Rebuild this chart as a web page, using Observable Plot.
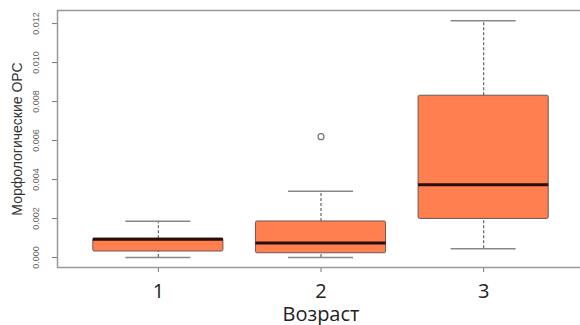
<!DOCTYPE html>
<html>
<head>
<meta charset="utf-8">
<script src="https://cdn.jsdelivr.net/npm/d3@7"></script>
<script src="https://cdn.jsdelivr.net/npm/@observablehq/plot@0.6"></script>
<style>
  html, body { margin: 0; padding: 0; background: #fff; }
  #chart svg { display: block; }
</style>
</head>
<body>
<div id="chart"></div>
<script>
const groups = [1, 2, 3];
const lowerWhisker = [0.0000, 0.0000, 0.00045];
const q1 = [0.00031, 0.00022, 0.00198];
const median = [0.00094, 0.00075, 0.00374];
const q3 = [0.00097, 0.00185, 0.0083];
const upperWhisker = [0.00186, 0.0034, 0.01215];
const outlierGroup = [2];
const outlierValue = [0.0062];
const yTicks = [0, 0.002, 0.004, 0.006, 0.008, 0.010, 0.012];
const xLabel = "Возраст";
const yLabel = "Морфологические ОРС";

const boxes = groups.map((g, i) => ({
  g, lo: lowerWhisker[i], q1: q1[i], med: median[i], q3: q3[i], hi: upperWhisker[i]
}));
const outliers = outlierGroup.map((g, i) => ({g, v: outlierValue[i]}));
const halfBox = 0.4, halfCap = 0.2;

const chart = Plot.plot({
  width: 580,
  height: 325,
  marginLeft: 57,
  marginTop: 10,
  marginBottom: 58,
  marginRight: -4,
  style: {fontFamily: "Liberation Sans, Arial, sans-serif", background: "#fff"},
  x: {type: "linear", domain: [0.38, 3.62], axis: null},
  y: {domain: [-0.00051, 0.01267], axis: null},
  marks: [
    // y ticks
    Plot.axisY({ticks: yTicks, tickSize: 5, tickFormat: () => "", label: null, stroke: "#777", strokeWidth: 1}),
    Plot.text(yTicks, {y: d => d, text: d => d3.format(".3f")(d), frameAnchor: "left", dx: -21,
      rotate: -90, textAnchor: "middle", lineAnchor: "middle", fontSize: 9, fill: "#666"}),
    Plot.text([yLabel], {frameAnchor: "left", dx: -40, rotate: -90, textAnchor: "middle",
      lineAnchor: "middle", fontSize: 14, fill: "#333"}),
    // x ticks
    Plot.axisX({ticks: groups, tickSize: 5, tickFormat: () => "", label: null, stroke: "#777", strokeWidth: 1}),
    Plot.text(groups, {x: d => d, text: d => String(d), frameAnchor: "bottom", dy: 24,
      lineAnchor: "middle", fontSize: 20, fill: "#222", fontFamily: "Open Sans, sans-serif"}),
    Plot.text([xLabel], {frameAnchor: "bottom", dy: 47, lineAnchor: "middle", fontSize: 20,
      fill: "#222", fontFamily: "Open Sans, sans-serif"}),
    // whiskers
    Plot.ruleX(boxes, {x: "g", y1: "q3", y2: "hi", stroke: "#666", strokeDasharray: "3,2", strokeWidth: 1.2}),
    Plot.ruleX(boxes, {x: "g", y1: "lo", y2: "q1", stroke: "#666", strokeDasharray: "3,2", strokeWidth: 1.2}),
    Plot.ruleY(boxes, {y: "hi", x1: d => d.g - halfCap, x2: d => d.g + halfCap, stroke: "#888", strokeWidth: 1.5}),
    Plot.ruleY(boxes, {y: "lo", x1: d => d.g - halfCap, x2: d => d.g + halfCap, stroke: "#888", strokeWidth: 1.5}),
    // boxes
    Plot.rect(boxes, {x1: d => d.g - halfBox, x2: d => d.g + halfBox, y1: "q1", y2: "q3",
      fill: "#FF7F50", stroke: "#6b5a52", strokeWidth: 1, rx: 1.5}),
    Plot.ruleY(boxes, {y: "med", x1: d => d.g - halfBox, x2: d => d.g + halfBox, stroke: "#2a0d05", strokeWidth: 3}),
    // outliers
    Plot.dot(outliers, {x: "g", y: "v", r: 3, stroke: "#777", fill: "none", strokeWidth: 1.2}),
    Plot.frame({stroke: "#999", strokeWidth: 1.5})
  ]
});
document.getElementById("chart").appendChild(chart);
</script>
</body>
</html>
